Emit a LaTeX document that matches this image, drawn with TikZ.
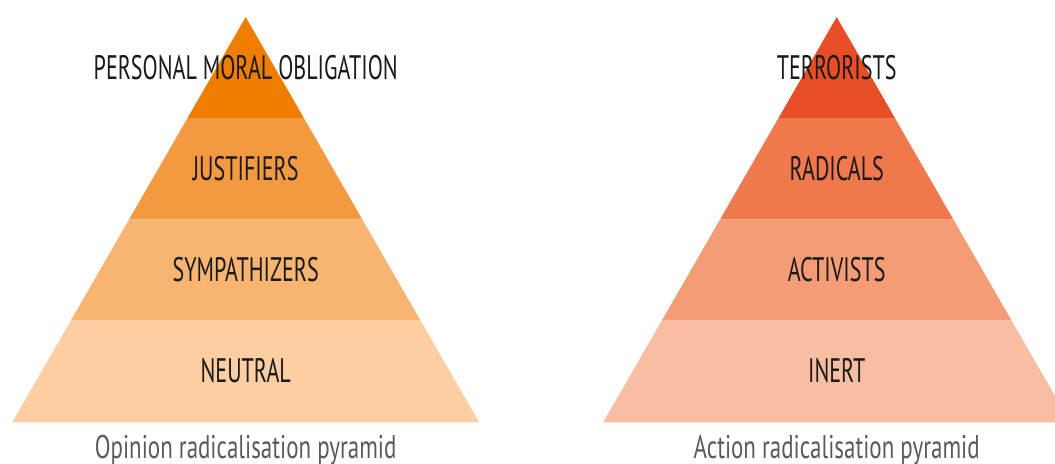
\documentclass[tikz,border=0pt]{standalone}
\usepackage{fontspec}
\usepackage{tikz}
\newfontfamily\tierfont{PT Sans}[FakeStretch=0.65]
\newfontfamily\captionfont{PT Sans}[FakeStretch=0.7]
\definecolor{OpTop}{HTML}{EF7D00}
\definecolor{OpTwo}{HTML}{F39A41}
\definecolor{OpThree}{HTML}{F7B571}
\definecolor{OpBase}{HTML}{FCCEA1}
\definecolor{AcTop}{HTML}{E84E25}
\definecolor{AcTwo}{HTML}{EF784D}
\definecolor{AcThree}{HTML}{F39C75}
\definecolor{AcBase}{HTML}{F8BEA1}
\definecolor{Ink}{HTML}{1A1A1A}
\definecolor{Caption}{HTML}{5A5A5A}
\tikzset{
  tier/.style={font=\tierfont\fontsize{29}{32}\selectfont,text=Ink,anchor=base,inner sep=0pt},
  caption/.style={font=\captionfont\fontsize{28}{32}\selectfont,text=Caption,anchor=base,inner sep=0pt}
}
\begin{document}
\begin{tikzpicture}[x=0.03cm,y=-0.03cm]
  \useasboundingbox (0,0) rectangle (1055,463);
  % bands of both pyramids, apex at y=17, base at y=422.3, slope 0.5761
  \foreach \ax/\ytop/\ybot/\col in {
      245.7/17/118/OpTop, 245.7/118/219.3/OpTwo, 245.7/219.3/320.7/OpThree, 245.7/320.7/422.3/OpBase,
      836.7/17/118/AcTop, 836.7/118/219.3/AcTwo, 836.7/219.3/320.7/AcThree, 836.7/320.7/422.3/AcBase}
    \fill[\col] ({\ax-0.5761*(\ytop-17)},\ytop) -- ({\ax+0.5761*(\ytop-17)},\ytop)
      -- ({\ax+0.5761*(\ybot-17)},\ybot) -- ({\ax-0.5761*(\ybot-17)},\ybot) -- cycle;

  % opinion pyramid
  \node[tier] (obligation) at (245.7,79) {PERSONAL MORAL OBLIGATION};
  \node[tier] (justifiers) at (245.7,180) {JUSTIFIERS};
  \node[tier] (sympathizers) at (245.7,281.7) {SYMPATHIZERS};
  \node[tier] (neutral) at (245.7,382.3) {NEUTRAL};
  \node[caption] (opinion) at (245.7,458) {Opinion radicalisation pyramid};

  % action pyramid
  \node[tier] (terrorists) at (836.7,79) {TERRORISTS};
  \node[tier] (radicals) at (836.7,180) {RADICALS};
  \node[tier] (activists) at (836.7,281.7) {ACTIVISTS};
  \node[tier] (inert) at (836.7,382.3) {INERT};
  \node[caption] (action) at (836.7,458) {Action radicalisation pyramid};
\end{tikzpicture}
\end{document}
